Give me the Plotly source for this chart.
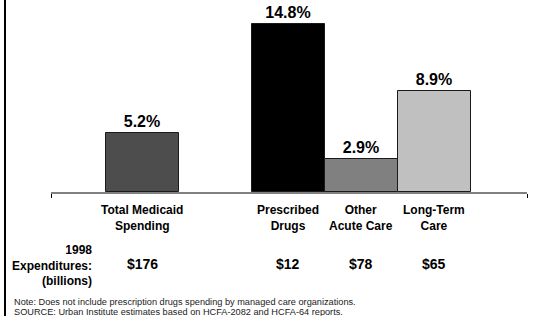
import plotly.graph_objects as go

# ---- data ----
categories = ["Total Medicaid<br>Spending", "Prescribed<br>Drugs", "Other<br>Acute Care", "Long-Term<br>Care"]
growth_pct = [5.2, 14.8, 2.9, 8.9]
expenditures = ["$176", "$12", "$78", "$65"]
row_label = "1998<br>Expenditures:<br>(billions)"
note_text = "Note: Does not include prescription drugs spending by managed care organizations."
source_text = "SOURCE: Urban Institute estimates based on HCFA-2082 and HCFA-64 reports."

# ---- layout/style ----
positions = [1.25, 3.25, 4.25, 5.25]
bar_colors = ["#4d4d4d", "#000000", "#808080", "#c0c0c0"]
FONT = "Liberation Sans, Arial, sans-serif"
W, H = 554, 316
L, R, T, B = 51, 27, 0, 124
plot_w = W - L - R
plot_h = H - T - B

fig = go.Figure()
fig.add_trace(go.Bar(
    x=positions, y=growth_pct, width=1,
    marker=dict(color=bar_colors, line=dict(color="#1a1a1a", width=1)),
    text=[f"{v:.1f}%" for v in growth_pct],
    textposition="outside",
    textfont=dict(family=FONT, size=16, color="#000000", weight="bold"),
    cliponaxis=False,
    hoverinfo="skip",
))

annotations = []
for xp, cat, exp in zip(positions, categories, expenditures):
    annotations.append(dict(
        x=xp, xref="x", y=0, yref="paper", yanchor="top", yshift=-9,
        text=f"<b>{cat}</b>", showarrow=False, align="center",
        font=dict(family=FONT, size=12, color="#000000"),
    ))
    annotations.append(dict(
        x=xp, xref="x", y=0, yref="paper", yanchor="middle", yshift=-72,
        text=f"<b>{exp}</b>", showarrow=False, align="center",
        font=dict(family=FONT, size=14, color="#000000"),
    ))

annotations.append(dict(
    x=(94 - L) / plot_w, xref="paper", y=0, yref="paper", xanchor="right", yanchor="middle",
    yshift=-73, text=f"<b>{row_label}</b>", showarrow=False, align="right",
    font=dict(family=FONT, size=12, color="#000000"),
))
annotations.append(dict(
    x=(12 - L) / plot_w, xref="paper", y=0, yref="paper", xanchor="left", yanchor="middle",
    yshift=-(302 - (T + plot_h)), text=note_text, showarrow=False, align="left",
    font=dict(family=FONT, size=9.2, color="#222222"),
))
annotations.append(dict(
    x=(12 - L) / plot_w, xref="paper", y=0, yref="paper", xanchor="left", yanchor="middle",
    yshift=-(312 - (T + plot_h)), text=source_text, showarrow=False, align="left",
    font=dict(family=FONT, size=9.2, color="#222222"),
))

shapes = [dict(
    type="line", xref="paper", yref="paper",
    x0=(5 - L) / plot_w, x1=(5 - L) / plot_w,
    y0=-(B / plot_h), y1=1 + T / plot_h,
    line=dict(color="#000000", width=2),
)]

x_max = 6.52
fig.update_layout(
    width=W, height=H,
    margin=dict(l=L, r=R, t=T, b=B, pad=0),
    paper_bgcolor="white", plot_bgcolor="white",
    showlegend=False,
    xaxis=dict(range=[0, x_max], showgrid=False, zeroline=False,
               showline=True, linecolor="#808080", linewidth=1.5,
               tickmode="array", tickvals=[0, x_max], ticks="outside",
               ticklen=4, tickcolor="#000000", tickwidth=1, showticklabels=False,
               fixedrange=True),
    yaxis=dict(range=[0, plot_h / 11.35], visible=False, fixedrange=True),
    annotations=annotations,
    shapes=shapes,
    bargap=0,
)

fig.write_html(
    "out.html",
    config={"displayModeBar": False},
    post_script="document.body.style.margin='0px';document.body.style.overflow='hidden';",
)
